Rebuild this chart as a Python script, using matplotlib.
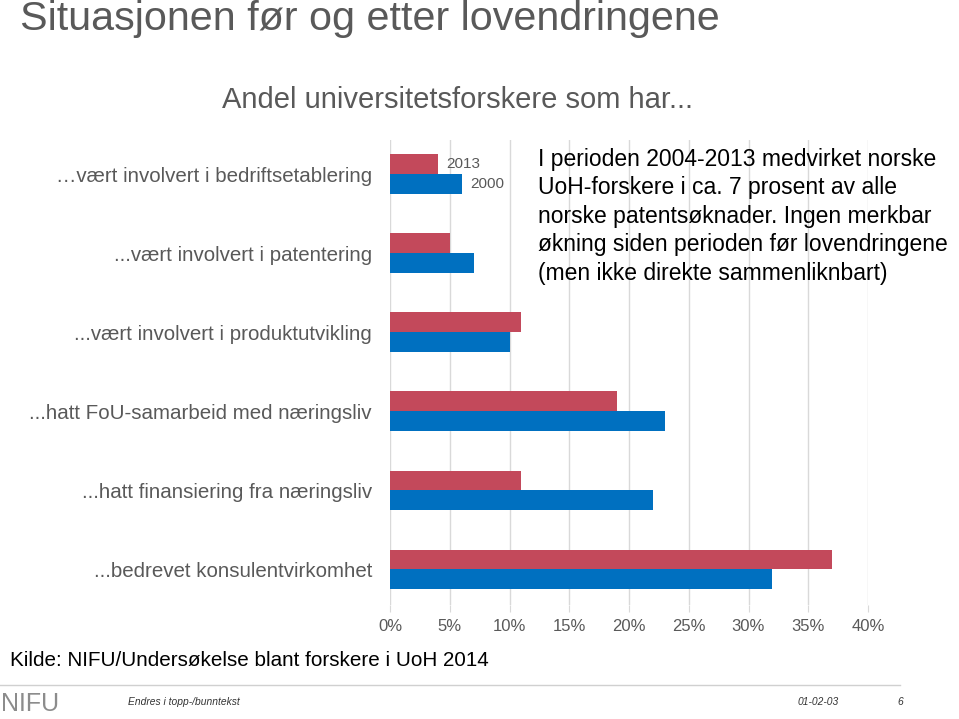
import matplotlib.pyplot as plt
import numpy as np

plt.rcParams['font.family'] = ['Liberation Sans', 'DejaVu Sans']

categories = ['\u2026vært involvert i bedriftsetablering',
              '...vært involvert i patentering',
              '...vært involvert i produktutvikling',
              '...hatt FoU-samarbeid med næringsliv',
              '...hatt finansiering fra næringsliv',
              '...bedrevet konsulentvirkomhet']
vals_2013 = [4, 5, 11, 19, 11, 37]
vals_2000 = [6, 7, 10, 23, 22, 32]
xticks = [0, 5, 10, 15, 20, 25, 30, 35, 40]

red = '#C3495B'
blue = '#0070C0'
gray = '#595959'

fig = plt.figure(figsize=(9.59, 7.19), dpi=100)
ax = fig.add_axes([390/959, 1-605/719, 478/959, 465/719])

y = np.arange(len(categories))
h = 0.25
ax.barh(y - h/2, vals_2013, h, color=red, zorder=3)
ax.barh(y + h/2, vals_2000, h, color=blue, zorder=3)

ax.set_xlim(0, 40)
ax.set_ylim(5.45, -0.43)
ax.set_xticks(xticks)
ax.set_xticklabels([str(t) + '%' for t in xticks], color=gray, fontsize=12)
ax.set_yticks(y)
ax.set_yticklabels(categories, color=gray, fontsize=14.8)
ax.tick_params(axis='y', length=0, pad=13)
ax.tick_params(axis='x', length=5, color='#d9d9d9', pad=5)
ax.grid(axis='x', color='#d9d9d9', linewidth=1, zorder=0)
for s in ax.spines.values():
    s.set_visible(False)

# series labels next to first group
ax.text(vals_2013[0] + 0.7, 0 - h/2, '2013', color=gray, fontsize=11, va='center')
ax.text(vals_2000[0] + 0.7, 0 + h/2, '2000', color=gray, fontsize=11, va='center')

ax.text(12.4, -0.33,
        'I perioden 2004-2013 medvirket norske\nUoH-forskere i ca. 7 prosent av alle\n'
        'norske patentsøknader. Ingen merkbar\nøkning siden perioden før lovendringene\n'
        '(men ikke direkte sammenliknbart)',
        fontsize=16.5, va='top', ha='left', color='black', linespacing=1.3, zorder=4)

fig.text(20/959, 1-19/719, 'Situasjonen før og etter lovendringene', fontsize=29.7,
         color=gray, va='center', ha='left')
fig.text(458/959, 1-100/719, 'Andel universitetsforskere som har...', fontsize=21,
         color=gray, va='center', ha='center')
fig.text(10/959, 1-660/719, 'Kilde: NIFU/Undersøkelse blant forskere i UoH 2014',
         fontsize=14.9, color='black', va='center', ha='left')

# footer
fig.add_artist(plt.Line2D([0, 900/959], [1-685/719, 1-685/719], color='#d0d0d0', linewidth=1))
fig.text(1/959, 1-704/719, 'NIFU', fontsize=18, color='#8c8c8c', va='center', ha='left')
fig.text(128/959, 1-702/719, 'Endres i topp-/bunntekst', fontsize=7.4, style='italic',
         color='#333333', va='center')
fig.text(798/959, 1-702/719, '01-02-03', fontsize=7.4, style='italic', color='#333333', va='center')
fig.text(897/959, 1-702/719, '6', fontsize=7.4, style='italic', color='#333333', va='center')

fig.savefig('out.png', dpi=100)
